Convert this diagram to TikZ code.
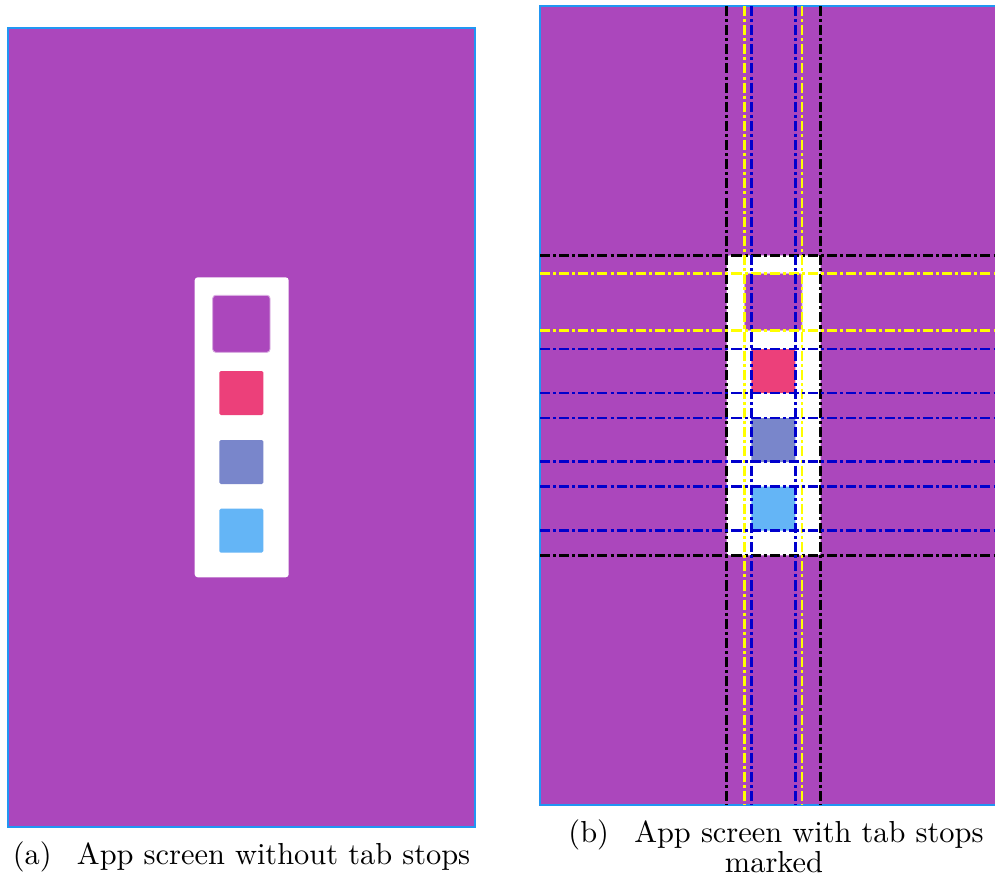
\documentclass[tikz,border=0pt]{standalone}
\definecolor{apppurple}{HTML}{AB47BC}
\definecolor{apppink}{HTML}{EC407A}
\definecolor{appindigo}{HTML}{7986CB}
\definecolor{appblue}{HTML}{64B5F6}
\definecolor{frameblue}{HTML}{2196F3}
\definecolor{markyellow}{HTML}{FFFF00}
\definecolor{markblue}{HTML}{0000CD}
\tikzset{
  screenframe/.style={fill=apppurple,draw=frameblue,line width=0.5pt},
  tabline/.style={line width=0.9pt,dash pattern=on 3.3pt off 1pt on 1pt off 1pt},
  caption/.style={anchor=base,inner sep=0pt},
}
\newcommand{\appscreen}{
  \draw[screenframe] (0,0) rectangle (467,799);
  \fill[white,rounded corners=1pt] (186.7,249.3) rectangle (280.7,549.3);
  \filldraw[fill=apppurple,draw=apppurple!45!white,line width=0.3pt,rounded corners=1pt] (204.7,267.3) rectangle (262,324.3);
  \foreach \y/\c in {343/apppink,412/appindigo,480.7/appblue}{
    \fill[\c,rounded corners=0.5pt] (211.3,\y) rectangle ++(44,44);
  }
}
\begin{document}
\begin{tikzpicture}[x=0.329pt,y=-0.329pt]
\useasboundingbox (0,0) rectangle (995,874);
\begin{scope}[shift={(8,28)}]
  \appscreen
\end{scope}
\begin{scope}[shift={(540,6)}]
  \clip (-10,-10) rectangle (455,810);
  \appscreen
  \foreach \y in {249.3,549.3}{
    \draw[tabline,black] (0,\y) -- (455,\y);
  }
  \foreach \x in {186.7,280.7}{
    \draw[tabline,black] (\x,0) -- (\x,799);
  }
  \foreach \y in {267.3,324.3}{
    \draw[tabline,markyellow] (0,\y) -- (455,\y);
  }
  \foreach \x in {204.7,262}{
    \draw[tabline,markyellow] (\x,0) -- (\x,799);
  }
  \foreach \y in {343,387,412,455.7,480.7,524.7}{
    \draw[tabline,markblue] (0,\y) -- (455,\y);
  }
  \foreach \x in {211.3,255.3}{
    \draw[tabline,markblue] (\x,0) -- (\x,799);
  }
\end{scope}
\node[caption] (capa) at (241.5,864) {(a)\enspace\ App screen without tab stops};
\node[caption] (capb) at (776,842) {(b)\enspace\ App screen with tab stops};
\node[caption] (capbm) at (774,872) {marked};
\end{tikzpicture}
\end{document}
